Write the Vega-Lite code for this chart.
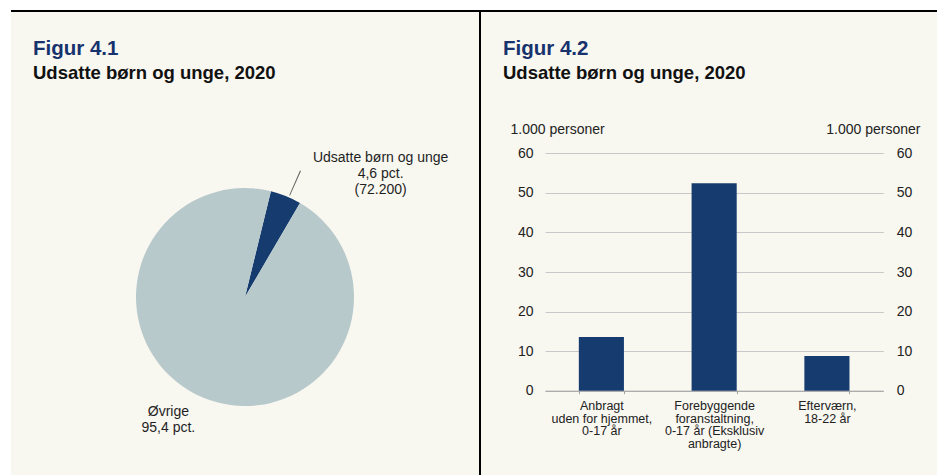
{
  "$schema": "https://vega.github.io/schema/vega-lite/v6.json",
  "background": "#ffffff",
  "padding": {"left": 11, "top": 10, "right": 0, "bottom": 0},
  "bounds": "flush",
  "spacing": 0,
  "config": {
    "font": "Liberation Sans",
    "view": {"stroke": null, "fill": "#f8f7f0"}
  },
  "vconcat": [
    {
      "width": 926,
      "height": 2,
      "view": {"fill": "#000000", "stroke": null},
      "data": {"values": []},
      "mark": "point",
      "encoding": {}
    },
    {
      "spacing": 0,
      "bounds": "flush",
      "hconcat": [
        {
          "width": 468,
          "height": 463,
          "title": {
            "text": "Figur 4.1",
            "subtitle": "Udsatte børn og unge, 2020",
            "anchor": "start",
            "frame": "group",
            "orient": "top",
            "offset": -70,
            "dx": 22,
            "font": "Liberation Sans",
            "fontSize": 20.5,
            "fontWeight": "bold",
            "color": "#17326d",
            "subtitleFont": "Liberation Sans",
            "subtitleFontSize": 18.5,
            "subtitleFontWeight": "bold",
            "subtitleColor": "#111111",
            "subtitlePadding": 4
          },
          "data": {
            "values": [
              {"cat": "Udsatte børn og unge", "pct": 4.6, "label": "Udsatte børn og unge\n4,6 pct.\n(72.200)"},
              {"cat": "Øvrige", "pct": 95.4, "label": "Øvrige\n95,4 pct."}
            ]
          },
          "encoding": {
            "theta": {"field": "pct", "type": "quantitative", "stack": true, "scale": {"range": [0.24, 6.5232]}},
            "order": {"field": "cat", "type": "nominal", "sort": "ascending"},
            "y": {"datum": "c", "type": "nominal", "scale": {"align": 0.6156}, "axis": null}
          },
          "layer": [
            {
              "mark": {"type": "arc", "radius": 109},
              "encoding": {
                "color": {
                  "field": "cat",
                  "type": "nominal",
                  "scale": {"domain": ["Udsatte børn og unge", "Øvrige"], "range": ["#153b6f", "#b8c9cc"]},
                  "legend": null
                }
              }
            },
            {
              "transform": [{"filter": "datum.cat === 'Udsatte børn og unge'"}],
              "mark": {"type": "arc", "radius": 138, "radius2": 111, "color": "#666666"},
              "encoding": {
                "order": null,
                "theta": {"datum": 2.70, "type": "quantitative", "stack": null},
                "theta2": {"datum": 2.83}
              }
            },
            {
              "mark": {"type": "text", "radius": 135, "dx": 85, "dy": -14, "fontSize": 14, "lineBreak": "\n", "lineHeight": 16, "align": "center", "baseline": "middle"},
              "encoding": {
                "detail": {"field": "cat", "type": "nominal"},
                "color": {"value": "#1f1f1f"},
                "text": {"condition": {"test": "datum.cat === 'Udsatte børn og unge'", "field": "label", "type": "nominal"}, "value": ""}
              }
            },
            {
              "mark": {"type": "text", "radius": 135, "dx": -26, "dy": -10, "fontSize": 14, "lineBreak": "\n", "lineHeight": 16, "align": "center", "baseline": "middle"},
              "encoding": {
                "detail": {"field": "cat", "type": "nominal"},
                "color": {"value": "#1f1f1f"},
                "text": {"condition": {"test": "datum.cat === 'Øvrige'", "field": "label", "type": "nominal"}, "value": ""}
              }
            }
          ]
        },
        {
          "width": 2,
          "height": 463,
          "view": {"fill": "#000000", "stroke": null},
          "data": {"values": []},
          "mark": "point",
          "encoding": {}
        },
        {
          "width": 456,
          "height": 463,
          "title": {
            "text": "Figur 4.2",
            "subtitle": "Udsatte børn og unge, 2020",
            "anchor": "start",
            "frame": "group",
            "orient": "top",
            "offset": -70,
            "dx": 22,
            "font": "Liberation Sans",
            "fontSize": 20.5,
            "fontWeight": "bold",
            "color": "#17326d",
            "subtitleFont": "Liberation Sans",
            "subtitleFontSize": 18.5,
            "subtitleFontWeight": "bold",
            "subtitleColor": "#111111",
            "subtitlePadding": 4
          },
          "data": {
            "values": [
              {"kategori": "Anbragt\nuden for hjemmet,\n0-17 år", "personer": 13.6},
              {"kategori": "Forebyggende\nforanstaltning,\n0-17 år (Eksklusiv\nanbragte)", "personer": 52.4},
              {"kategori": "Efterværn,\n18-22 år", "personer": 8.8}
            ]
          },
          "encoding": {
            "x": {
              "field": "kategori",
              "type": "nominal",
              "sort": null,
              "scale": {"range": [64, 402.3], "paddingInner": 0.6, "paddingOuter": 0.3},
              "axis": {
                "orient": "bottom",
                "offset": -84.3,
                "title": null,
                "labelAngle": 0,
                "labelExpr": "split(datum.label, '\\n')",
                "labelFontSize": 12.5,
                "labelLineHeight": 12.5,
                "labelColor": "#222222",
                "labelPadding": 6,
                "labelLimit": 0,
                "ticks": true,
                "tickBand": "extent",
                "tickSize": 3,
                "tickColor": "#a0a0a0",
                "domainColor": "#a0a0a0",
                "grid": false
              }
            }
          },
          "layer": [
            {
              "mark": {"type": "bar", "color": "#153b6f"},
              "encoding": {
                "y": {
                  "field": "personer",
                  "type": "quantitative",
                  "scale": {"domain": [0, 60], "range": [378.7, 141.3], "nice": false},
                  "axis": {
                    "orient": "left",
                    "offset": -64,
                    "values": [0, 10, 20, 30, 40, 50, 60],
                    "grid": true,
                    "gridColor": "#c8c8c8",
                    "domain": false,
                    "ticks": false,
                    "labelPadding": 12,
                    "labelFontSize": 14,
                    "labelColor": "#222222",
                    "title": "1.000 personer",
                    "titleAngle": 0,
                    "titleAlign": "left",
                    "titleBaseline": "alphabetic",
                    "titleX": -35,
                    "titleY": 121.3,
                    "titleFontSize": 14,
                    "titleFontWeight": "normal",
                    "titleColor": "#222222"
                  }
                }
              }
            },
            {
              "mark": {"type": "text"},
              "encoding": {
                "text": {"value": ""},
                "y": {
                  "field": "personer",
                  "type": "quantitative",
                  "scale": {"domain": [0, 60], "range": [378.7, 141.3], "nice": false},
                  "axis": {
                    "orient": "right",
                    "offset": -53.7,
                    "values": [0, 10, 20, 30, 40, 50, 60],
                    "grid": false,
                    "domain": false,
                    "ticks": false,
                    "labelPadding": 13,
                    "labelFontSize": 14,
                    "labelColor": "#222222",
                    "title": "1.000 personer",
                    "titleAngle": 0,
                    "titleAlign": "right",
                    "titleBaseline": "alphabetic",
                    "titleX": 36.7,
                    "titleY": 121.3,
                    "titleFontSize": 14,
                    "titleFontWeight": "normal",
                    "titleColor": "#222222"
                  }
                }
              }
            }
          ],
          "resolve": {"axis": {"y": "independent"}}
        }
      ]
    }
  ]
}
